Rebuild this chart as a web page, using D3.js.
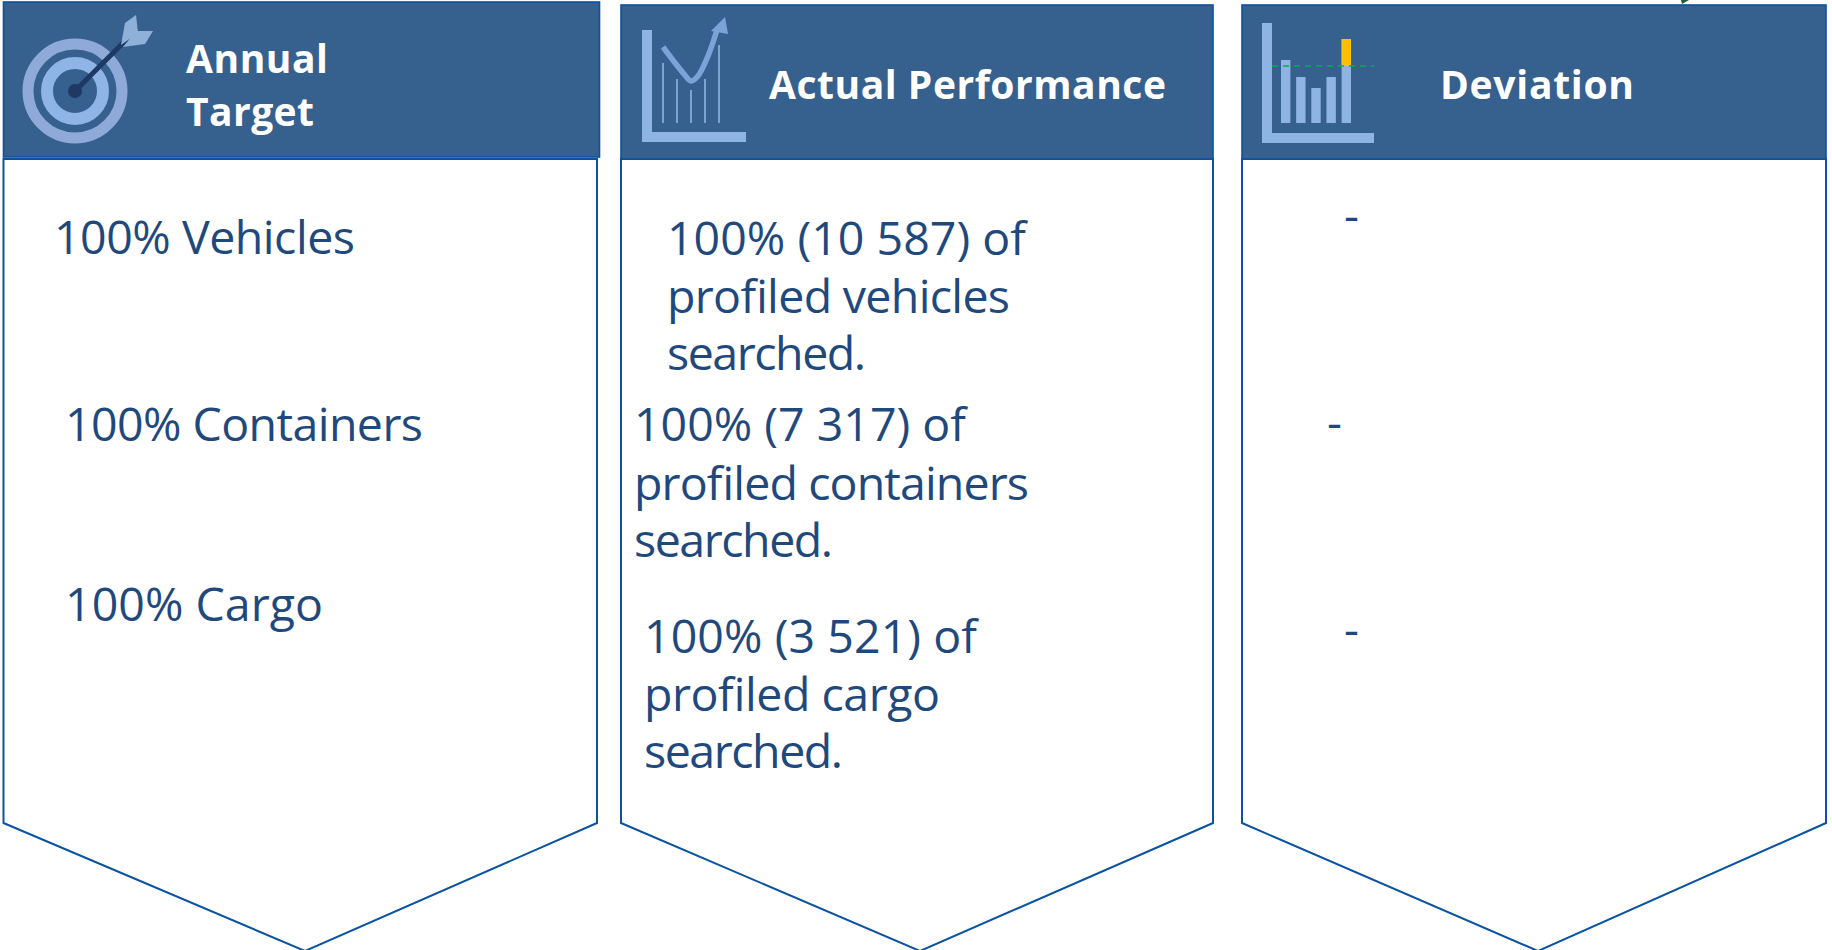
<!DOCTYPE html>
<html>
<head>
<meta charset="utf-8">
<script src="https://cdn.jsdelivr.net/npm/d3@7"></script>
<style>
  html, body { margin: 0; padding: 0; background: #fff; overflow: hidden; }
  text { font-family: "Open Sans", "Noto Sans", sans-serif; }
</style>
</head>
<body>
<div id="dataviz"></div>
<script>
var headers = [["Annual", "Target"], ["Actual Performance"], ["Deviation"]];
var targetItems = ["Vehicles", "Containers", "Cargo"];
var targetPercents = [100, 100, 100];
var actualCounts = ["10 587", "7 317", "3 521"];
var actualNouns = ["vehicles", "containers", "cargo"];
var deviations = ["-", "-", "-"];
var iconBarValues = [63, 46, 35, 46, 84];
var iconBarLimit = 57;

var width = 1832, height = 950;
var navy = "#36618f", edge = "#0b52a0", ink = "#1f497d", pale = "#8eb4e3";

var svg = d3.select("#dataviz").append("svg")
    .attr("width", width)
    .attr("height", height)
    .style("display", "block");

// the three panels
var panels = [
    {x0: 3.5, x1: 597, hx1: 599.5, hy0: 2, hy1: 157, by0: 159, tip: 305},
    {x0: 621, x1: 1213, hx1: 1213, hy0: 5, hy1: 159, by0: 159, tip: 920},
    {x0: 1242, x1: 1826, hx1: 1826, hy0: 5, hy1: 159, by0: 159, tip: 1538}
];
var shoulder = 823;

svg.selectAll("path.body")
    .data(panels)
    .join("path")
    .attr("class", "body")
    .attr("d", function(p) {
        return d3.line()([[p.x0, p.by0], [p.x1, p.by0], [p.x1, shoulder], [p.tip, height + 1], [p.x0, shoulder]]) + "Z";
    })
    .attr("fill", "#fff")
    .attr("stroke", edge)
    .attr("stroke-width", 2);

svg.selectAll("rect.head")
    .data(panels)
    .join("rect")
    .attr("class", "head")
    .attr("x", function(p) { return p.x0; })
    .attr("y", function(p) { return p.hy0; })
    .attr("width", function(p) { return p.hx1 - p.x0; })
    .attr("height", function(p) { return p.hy1 - p.hy0; })
    .attr("fill", navy)
    .attr("stroke", edge)
    .attr("stroke-width", 1.6);

// header titles
function headText(str, x, y, w) {
    svg.append("text").attr("x", x).attr("y", y)
        .attr("fill", "#fff")
        .attr("font-weight", 700)
        .attr("font-size", 39)
        .attr("textLength", w)
        .attr("lengthAdjust", "spacing")
        .text(str);
}
headText(headers[0][0], 186, 73, 142);
headText(headers[0][1], 186, 126, 128);
headText(headers[1][0], 769, 99, 397);
headText(headers[2][0], 1440, 99, 194);

// body text, squeezed to the widths of the original lines
function bodyText(lines, x, ys, ws) {
    lines.forEach(function(str, i) {
        svg.append("text").attr("x", x).attr("y", ys[i])
            .attr("fill", ink)
            .attr("font-size", 46.5)
            .attr("textLength", ws[i])
            .attr("lengthAdjust", "spacing")
            .text(str);
    });
}
var targetX = [54, 65, 65], targetY = [254, 441, 621], targetW = [301, 358, 258];
targetItems.forEach(function(item, i) {
    bodyText([targetPercents[i] + "% " + item], targetX[i], [targetY[i]], [targetW[i]]);
});

var actualX = [667, 634, 644];
var actualY = [[255, 313, 370], [441, 500, 557], [653, 711, 768]];
var actualW = [[359, 343, 199], [332, 395, 199], [333, 296, 199]];
actualCounts.forEach(function(count, i) {
    bodyText(["100% (" + count + ") of", "profiled " + actualNouns[i], "searched."], actualX[i], actualY[i], actualW[i]);
});

var devX = [1344, 1327, 1344], devY = [232, 439, 646];
deviations.forEach(function(d, i) {
    bodyText([d], devX[i], [devY[i]], [17]);
});

// target icon
var target = svg.append("g").attr("transform", "translate(75,91)");
target.append("circle").attr("r", 47).attr("fill", "none").attr("stroke", "#8fa9d8").attr("stroke-width", 11);
target.append("circle").attr("r", 28).attr("fill", "none").attr("stroke", "#8fb4e6").attr("stroke-width", 12);
target.append("circle").attr("r", 7).attr("fill", "#1f3864");
target.append("line").attr("x1", 0).attr("y1", 0).attr("x2", 53).attr("y2", -53)
    .attr("stroke", "#1f3864").attr("stroke-width", 5);
target.append("path").attr("d", "M46,-46L50,-68L61,-76L63,-58Z").attr("fill", "#8fb0d8");
target.append("path").attr("d", "M48,-44L70,-47L78,-60L61,-60Z").attr("fill", "#8fb0d8");

// line icon
var lineIcon = svg.append("g");
lineIcon.append("path").attr("d", "M642,30H652V132H746V142H642Z").attr("fill", pale);
lineIcon.selectAll("line")
    .data([[663, 63], [677, 79], [691, 90], [705, 79], [719, 45]])
    .join("line")
    .attr("x1", function(d) { return d[0]; })
    .attr("x2", function(d) { return d[0]; })
    .attr("y1", function(d) { return d[1]; })
    .attr("y2", 123)
    .attr("stroke", pale)
    .attr("stroke-width", 1.6);
lineIcon.append("path")
    .attr("d", d3.line().curve(d3.curveCatmullRom)([[663, 47], [684, 74], [691, 81], [698, 76], [708, 56], [717, 30]]))
    .attr("fill", "none").attr("stroke", "#7ba3d8").attr("stroke-width", 5.5);
lineIcon.append("path").attr("d", "M725,17L711,31L728,34Z").attr("fill", "#7ba3d8");

// bar icon
var barIcon = svg.append("g");
barIcon.append("path").attr("d", "M1262,23H1272V133H1374V143H1262Z").attr("fill", pale);
var barX = d3.scaleBand().domain(d3.range(iconBarValues.length)).range([1281, 1351]).paddingInner(0.38);
var barY = d3.scaleLinear().domain([0, 100]).range([123, 23]);
barIcon.selectAll("rect.bar")
    .data(iconBarValues)
    .join("rect")
    .attr("class", "bar")
    .attr("x", function(d, i) { return barX(i); })
    .attr("width", barX.bandwidth())
    .attr("y", function(d) { return barY(d); })
    .attr("height", function(d) { return barY(0) - barY(d); })
    .attr("fill", pale);
barIcon.selectAll("rect.over")
    .data(iconBarValues.filter(function(d) { return d > iconBarLimit + 10; }))
    .join("rect")
    .attr("class", "over")
    .attr("x", barX(4))
    .attr("width", barX.bandwidth())
    .attr("y", function(d) { return barY(d); })
    .attr("height", function(d) { return barY(iconBarLimit) - barY(d); })
    .attr("fill", "#ffc000");
barIcon.append("line")
    .attr("x1", 1272).attr("x2", 1374)
    .attr("y1", barY(iconBarLimit)).attr("y2", barY(iconBarLimit))
    .attr("stroke", "#00b050").attr("stroke-width", 1.5).attr("stroke-dasharray", "6 5");

// scrap of a neighbouring shape at the top edge
svg.append("path").attr("d", "M1681,0L1689,0L1682,4Z").attr("fill", "#1f5c3a");
</script>
</body>
</html>
